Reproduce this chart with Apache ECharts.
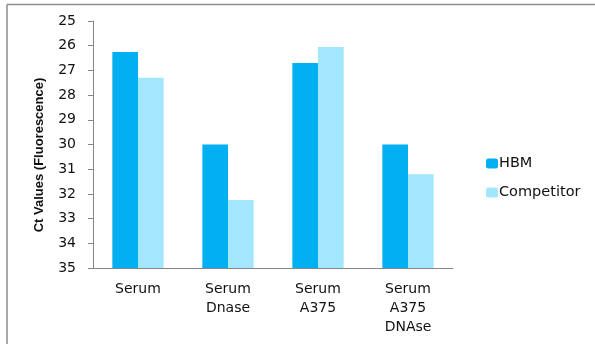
<!DOCTYPE html>
<html><head><meta charset="utf-8">
<script src="https://cdn.jsdelivr.net/npm/echarts@6/dist/echarts.min.js"></script>
<style>html,body{margin:0;padding:0;background:#fff}#c{width:595px;height:344px}</style>
</head><body><div id="c"></div>
<script>
const categories = ['Serum', 'Serum\nDnase', 'Serum\nA375', 'Serum\nA375\nDNAse'];
const hbm = [26.25, 30.0, 26.7, 30.0];
const competitor = [27.3, 32.25, 26.05, 31.2];
const yMin = 25, yMax = 35, yStep = 1;

const chart = echarts.init(document.getElementById('c'), null, {renderer: 'canvas'});
const font = 'DejaVu Sans';
chart.setOption({
  animation: false,
  backgroundColor: '#fff',
  graphic: [
    {type: 'line', shape: {x1: 7, y1: 4.5, x2: 595, y2: 4.5}, style: {stroke: '#8c8c8c', lineWidth: 1.5}},
    {type: 'line', shape: {x1: 7, y1: 4.5, x2: 7, y2: 344}, style: {stroke: '#8c8c8c', lineWidth: 1.5}}
  ],
  grid: {left: 93, right: 142, top: 21, bottom: 76, containLabel: false},
  legend: {
    orient: 'vertical', left: 481, top: 151,
    itemWidth: 12, itemHeight: 10, itemGap: 14,
    textStyle: {fontFamily: font, fontSize: 14.5, color: '#111', padding: [0, 0, 0, -4]},
    data: ['HBM', 'Competitor']
  },
  xAxis: {
    type: 'category', data: categories,
    axisLine: {lineStyle: {color: '#868686', width: 1}},
    axisTick: {inside: true, length: 5, lineStyle: {color: '#868686'}},
    axisLabel: {fontFamily: font, fontSize: 14, color: '#111', lineHeight: 19, margin: 12, interval: 0}
  },
  yAxis: {
    type: 'value', inverse: true, min: yMin, max: yMax, interval: yStep, startValue: yMax,
    name: 'Ct Values (Fluorescence)', nameLocation: 'middle', nameGap: 47,
    nameTextStyle: {fontFamily: 'Liberation Sans', fontWeight: 'bold', fontSize: 13, color: '#111', padding: [0, 21, 0, 0]},
    axisLine: {show: true, lineStyle: {color: '#868686', width: 1}},
    axisTick: {show: true, length: 5, lineStyle: {color: '#868686'}},
    splitLine: {show: false},
    axisLabel: {fontFamily: font, fontSize: 14, color: '#111', margin: 17}
  },
  series: [
    {name: 'HBM', type: 'bar', data: hbm, barGap: '0%', barCategoryGap: '43%', itemStyle: {color: '#00B0F0'}},
    {name: 'Competitor', type: 'bar', data: competitor, barGap: '0%', barCategoryGap: '43%', itemStyle: {color: '#A3E6FF'}}
  ]
});
</script></body></html>
